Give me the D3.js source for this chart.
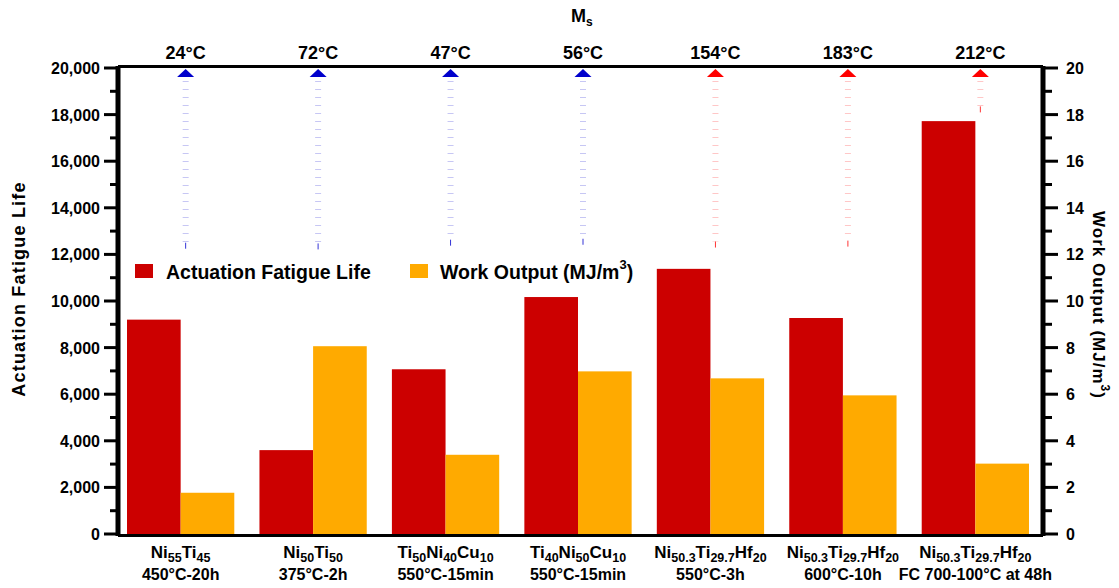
<!DOCTYPE html>
<html>
<head>
<meta charset="utf-8">
<script src="https://cdn.jsdelivr.net/npm/d3@7"></script>
<style>
  body { margin: 0; background: #fff; }
  svg { font-family: "Liberation Sans", Arial, sans-serif; font-weight: bold; }
</style>
</head>
<body>
<svg id="chart" width="1119" height="588"></svg>
<script>
// alloy compositions, as [element, subscript] pairs
var alloys = [
    [['Ni', '55'], ['Ti', '45']],
    [['Ni', '50'], ['Ti', '50']],
    [['Ti', '50'], ['Ni', '40'], ['Cu', '10']],
    [['Ti', '40'], ['Ni', '50'], ['Cu', '10']],
    [['Ni', '50.3'], ['Ti', '29.7'], ['Hf', '20']],
    [['Ni', '50.3'], ['Ti', '29.7'], ['Hf', '20']],
    [['Ni', '50.3'], ['Ti', '29.7'], ['Hf', '20']]
];
var treatments = ['450°C-20h', '375°C-2h', '550°C-15min', '550°C-15min', '550°C-3h', '600°C-10h', 'FC 700-100°C at 48h'];
var fatigueLife = [9200, 3600, 7070, 10170, 11380, 9270, 17720];
var workOutput = [1.77, 8.06, 3.4, 6.98, 6.68, 5.95, 3.02];
var msTemps = [24, 72, 47, 56, 154, 183, 212];
var msLineEnd = [12330, 12300, 12460, 12500, 12380, 12420, 18180];
var leftTicks = [0, 2000, 4000, 6000, 8000, 10000, 12000, 14000, 16000, 18000, 20000];
var rightTicks = [0, 2, 4, 6, 8, 10, 12, 14, 16, 18, 20];

var svg = d3.select('#chart');
var pl = 118, pr = 1043, pt = 68, pb = 534;

var x = d3.scaleBand().domain(d3.range(alloys.length)).range([pl, pr - 5]).paddingInner(0.19).paddingOuter(0.068);
var yL = d3.scaleLinear().domain([0, 20000]).range([pb, pt]);
var yR = d3.scaleLinear().domain([0, 20]).range([pb, pt]);
var bw = x.bandwidth() / 2;

var red = '#cc0000', orange = '#ffaa00';

// bars
svg.append('g').selectAll('rect').data(fatigueLife).enter().append('rect')
    .attr('x', function (d, i) { return x(i); })
    .attr('width', bw)
    .attr('y', function (d) { return yL(d); })
    .attr('height', function (d) { return yL(0) - yL(d); })
    .style('fill', red);
svg.append('g').selectAll('rect').data(workOutput).enter().append('rect')
    .attr('x', function (d, i) { return x(i) + bw; })
    .attr('width', bw)
    .attr('y', function (d) { return yR(d); })
    .attr('height', function (d) { return yR(0) - yR(d); })
    .style('fill', orange);

// Ms markers
var msColor = function (t) { return t > 100 ? '#ff0000' : '#0000cc'; };
var ms = svg.append('g');
msTemps.forEach(function (t, i) {
    var cx = x(i) + bw + 5;
    var c = msColor(t);
    ms.append('line')
        .attr('x1', cx).attr('x2', cx)
        .attr('y1', pt + 13).attr('y2', yL(msLineEnd[i]) - 4)
        .style('stroke', c).style('stroke-opacity', 0.22)
        .style('stroke-width', 6).style('stroke-dasharray', '1,7');
    ms.append('line')
        .attr('x1', cx).attr('x2', cx)
        .attr('y1', yL(msLineEnd[i]) - 4).attr('y2', yL(msLineEnd[i]) + 2)
        .style('stroke', c).style('stroke-opacity', 0.8).style('stroke-width', 1);
    ms.append('path')
        .attr('d', 'M' + (cx - 8.5) + ',' + (pt + 9) + 'L' + cx + ',' + (pt + 1) + 'L' + (cx + 8.5) + ',' + (pt + 9) + 'Z')
        .style('fill', c);
    ms.append('text')
        .attr('x', cx).attr('y', 59)
        .attr('text-anchor', 'middle')
        .style('font-size', '18px')
        .text(t + '°C');
});
var msTitle = svg.append('text').attr('x', 571).attr('y', 22).style('font-size', '18px');
msTitle.append('tspan').text('M');
msTitle.append('tspan').attr('dy', 4).style('font-size', '12px').text('s');

// axes
var gL = svg.append('g').attr('transform', 'translate(' + pl + ',0)');
gL.selectAll('line.tk').data(d3.range(0, 20001, 1000)).enter().append('line')
    .attr('x1', 0).attr('x2', function (d) { return d % 2000 === 0 ? -14 : -8; })
    .attr('y1', function (d) { return yL(d); }).attr('y2', function (d) { return yL(d); })
    .style('stroke', '#000').style('stroke-width', 3);
gL.selectAll('text').data(leftTicks).enter().append('text')
    .attr('x', -18).attr('y', function (d) { return yL(d) + 6; })
    .attr('text-anchor', 'end').style('font-size', '16px')
    .text(d3.format(','));

var gR = svg.append('g').attr('transform', 'translate(' + pr + ',0)');
gR.selectAll('line.tk').data(d3.range(0, 20.5, 1)).enter().append('line')
    .attr('x1', 0).attr('x2', function (d) { return d % 2 === 0 ? 15 : 9; })
    .attr('y1', function (d) { return yR(d); }).attr('y2', function (d) { return yR(d); })
    .style('stroke', '#000').style('stroke-width', 3);
gR.selectAll('text').data(rightTicks).enter().append('text')
    .attr('x', 23).attr('y', function (d) { return yR(d) + 6; })
    .style('font-size', '16px')
    .text(function (d) { return d; });

// frame
svg.append('line').attr('x1', pl).attr('x2', pl).attr('y1', pt - 2).attr('y2', pb + 2)
    .style('stroke', '#000').style('stroke-width', 5);
svg.append('line').attr('x1', pr).attr('x2', pr).attr('y1', pt - 2).attr('y2', pb + 2)
    .style('stroke', '#000').style('stroke-width', 5);
svg.append('line').attr('x1', pl).attr('x2', pr).attr('y1', pt - 1.5).attr('y2', pt - 1.5)
    .style('stroke', '#000').style('stroke-width', 3);
svg.append('line').attr('x1', pl).attr('x2', pr).attr('y1', pb + 1.5).attr('y2', pb + 1.5)
    .style('stroke', '#000').style('stroke-width', 3);

// category labels
var cat = svg.append('g');
alloys.forEach(function (parts, i) {
    var cx = x(i) + bw;
    var t = cat.append('text').attr('x', cx).attr('y', 558)
        .attr('text-anchor', 'middle').style('font-size', '17px');
    parts.forEach(function (p, j) {
        t.append('tspan').attr('dy', j === 0 ? 0 : -4).text(p[0]);
        t.append('tspan').attr('dy', 4).style('font-size', '12.5px').text(p[1]);
    });
    cat.append('text').attr('x', cx).attr('y', 580)
        .attr('text-anchor', 'middle').style('font-size', '16px')
        .text(treatments[i]);
});

// axis titles
svg.append('text')
    .attr('transform', 'translate(25,' + ((pt + pb) / 2 - 12) + ') rotate(-90)')
    .attr('text-anchor', 'middle').style('font-size', '18px').style('letter-spacing', '1.2px')
    .text('Actuation Fatigue Life');
var rt = svg.append('text')
    .attr('transform', 'translate(1093,' + ((pt + pb) / 2 + 4) + ') rotate(90)')
    .attr('text-anchor', 'middle').style('font-size', '17px').style('letter-spacing', '1px');
rt.append('tspan').text('Work Output  (MJ/m');
rt.append('tspan').attr('dy', -8).style('font-size', '12px').text('3');
rt.append('tspan').attr('dy', 8).text(')');

// legend
var lg = svg.append('g');
lg.append('rect').attr('x', 135).attr('y', 264).attr('width', 18).attr('height', 14).style('fill', red);
lg.append('text').attr('x', 166).attr('y', 279).style('font-size', '19.5px').text('Actuation Fatigue Life');
lg.append('rect').attr('x', 410).attr('y', 264).attr('width', 18).attr('height', 14).style('fill', orange);
var lt = lg.append('text').attr('x', 440).attr('y', 279).style('font-size', '19.5px');
lt.append('tspan').text('Work Output (MJ/m');
lt.append('tspan').attr('dy', -10).style('font-size', '13px').text('3');
lt.append('tspan').attr('dy', 10).text(')');
</script>
</body>
</html>
